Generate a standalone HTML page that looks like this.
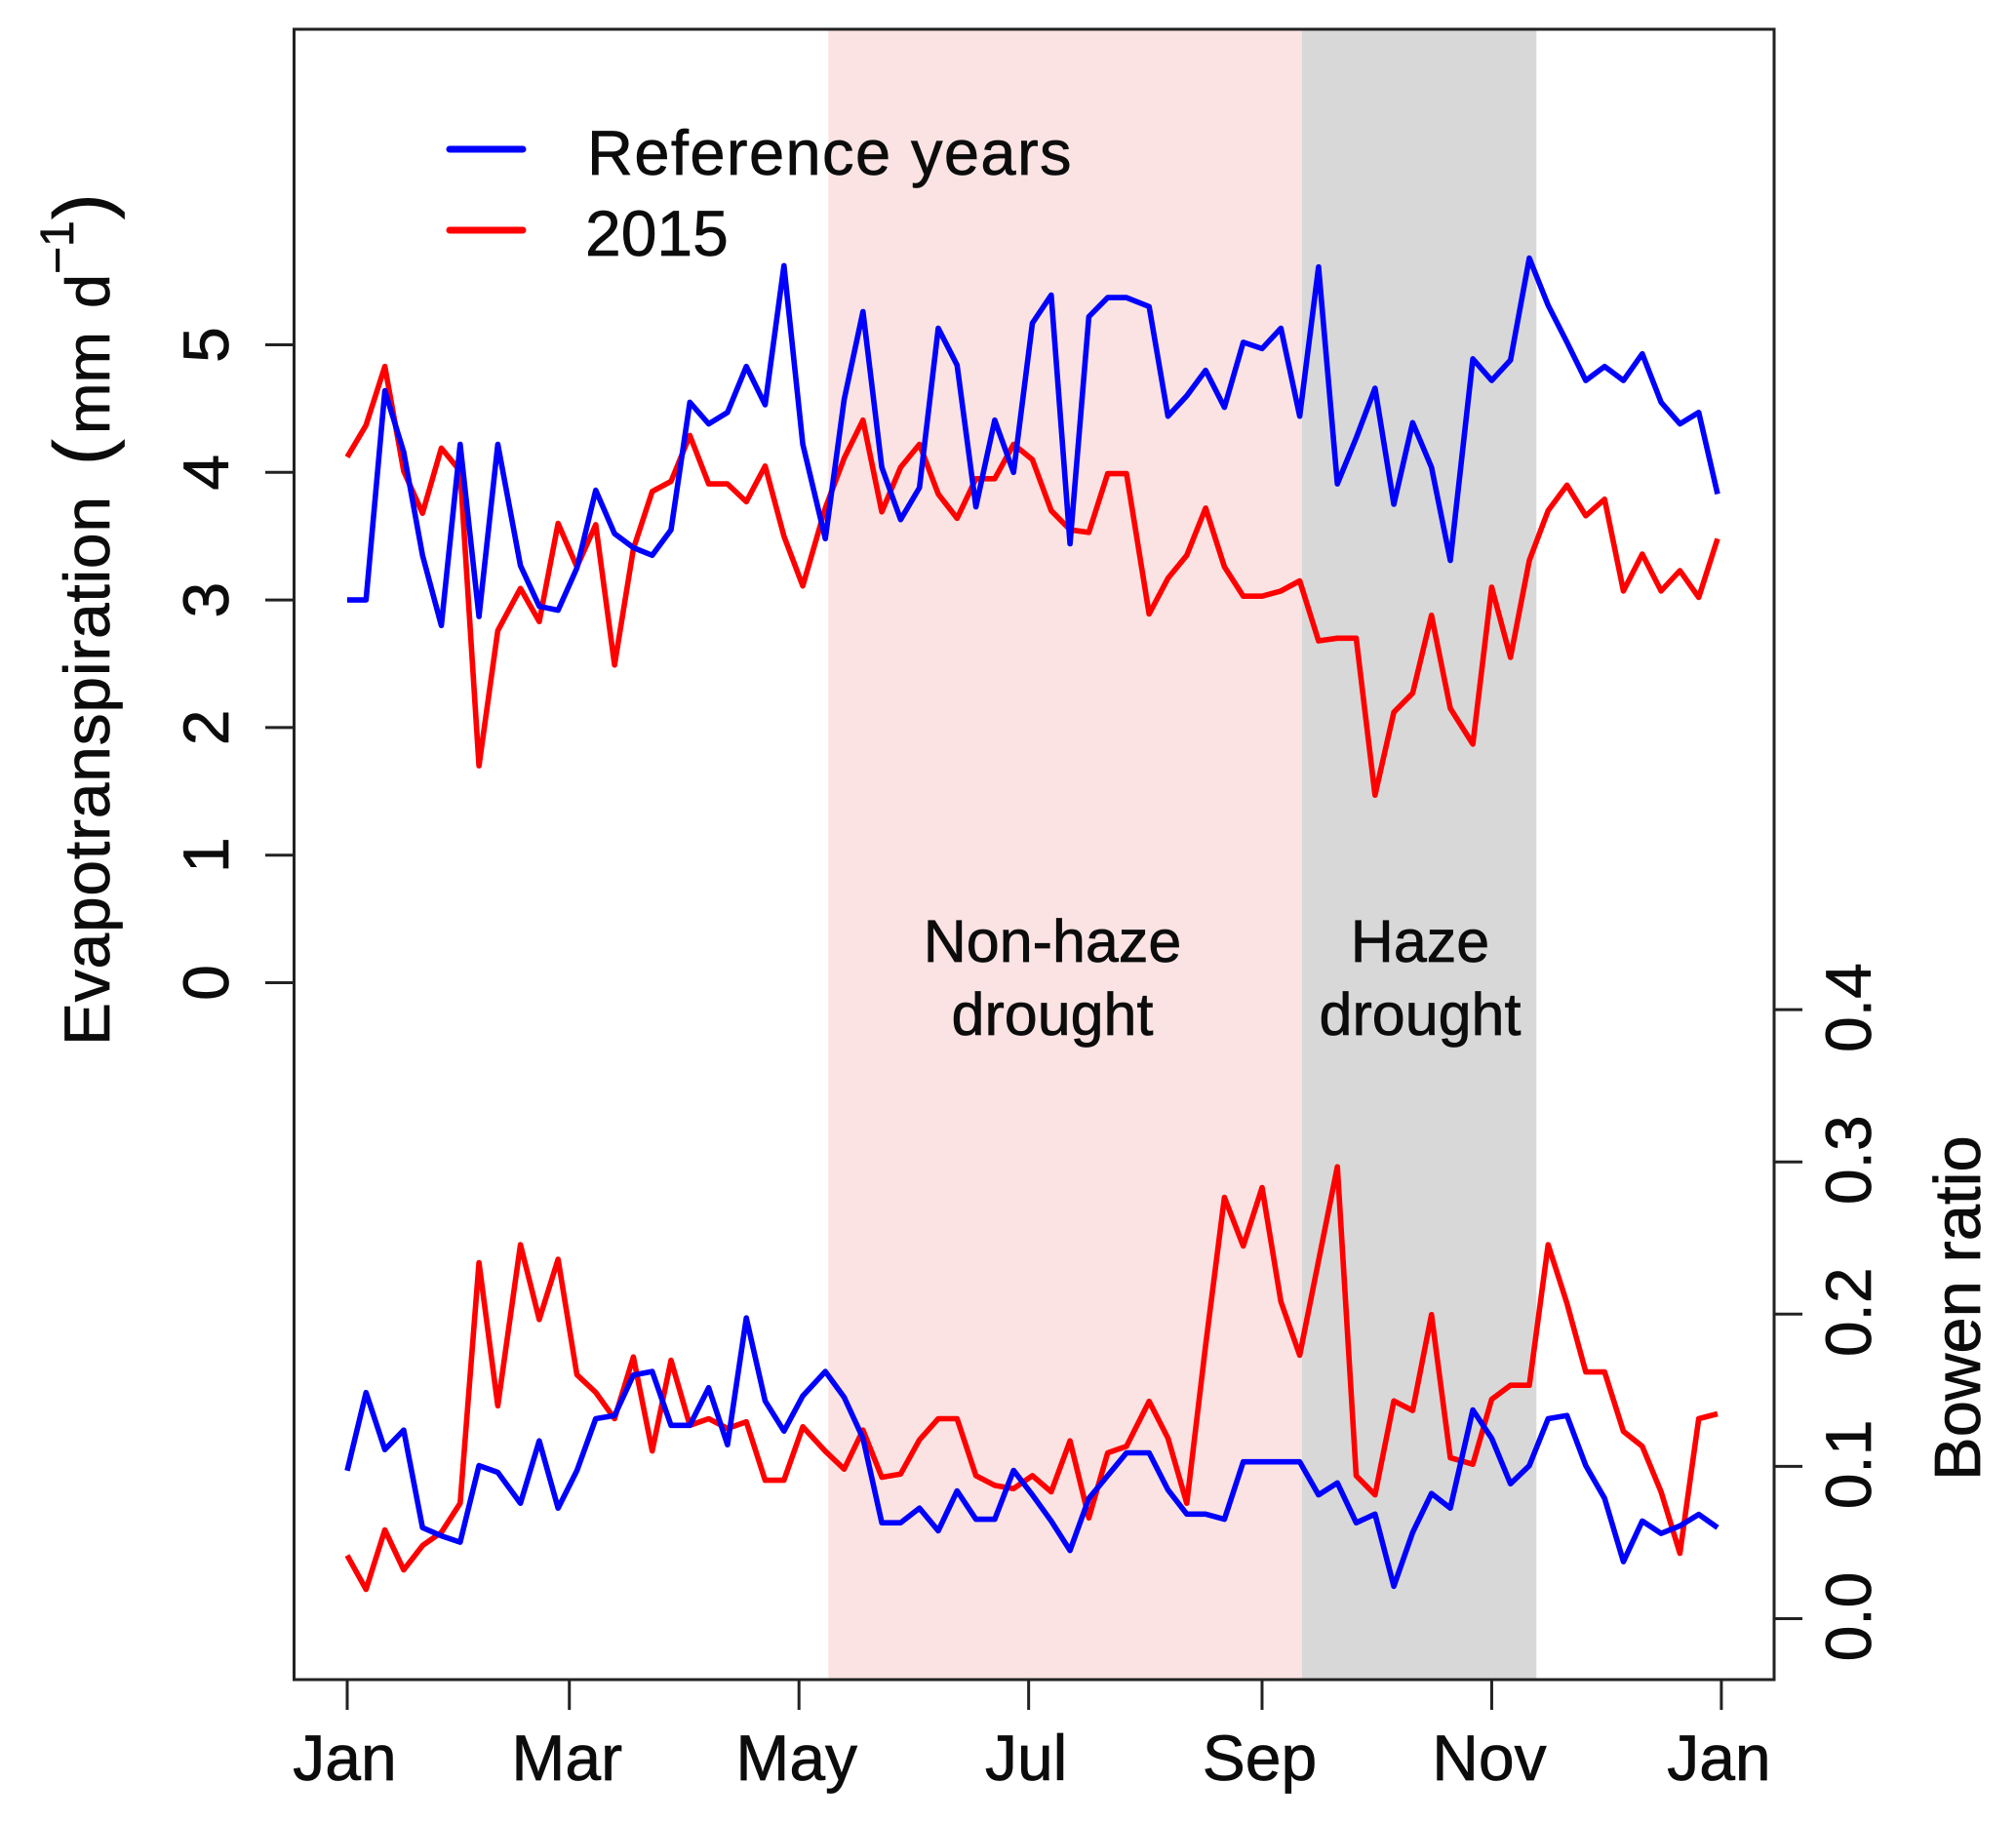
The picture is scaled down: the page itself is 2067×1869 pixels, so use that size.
<!DOCTYPE html>
<html lang="en">
<head>
<meta charset="utf-8">
<title>Evapotranspiration and Bowen ratio</title>
<style>
html,body{margin:0;padding:0;background:#fff;}
svg{display:block;}
text{font-family:"Liberation Sans",Arial,sans-serif;fill:#0c0c0c;stroke:#0c0c0c;stroke-width:0.7px;}
</style>
</head>
<body>
<svg id="chart" xmlns="http://www.w3.org/2000/svg" width="2067" height="1869" viewBox="0 0 2067 1869">
  <rect x="0" y="0" width="2067" height="1869" fill="#fff"/>
  <rect x="849.3" y="30" width="485.7" height="1692" fill="#fae3e2"/>
  <rect x="1335" y="30" width="240.3" height="1692" fill="#d8d8d8"/>
  <g id="series"></g>
  <rect x="301.5" y="30" width="1517.5" height="1692" fill="none" stroke="#222" stroke-width="3"/>
  <g id="axes"></g>

  <g>
    <line x1="461" y1="153" x2="536" y2="153" stroke="#0000ff" stroke-width="7" stroke-linecap="round"/>
    <text x="602" y="179" font-size="65" letter-spacing="1.4">Reference years</text>
    <line x1="461" y1="236" x2="536" y2="236" stroke="#ff0000" stroke-width="7" stroke-linecap="round"/>
    <text x="600" y="262" font-size="66">2015</text>
  </g>

  <text x="1079" y="986" font-size="61" text-anchor="middle">Non-haze</text>
  <text x="1079" y="1061" font-size="61" text-anchor="middle">drought</text>
  <text x="1456" y="986" font-size="61" text-anchor="middle">Haze</text>
  <text x="1456" y="1061" font-size="61" text-anchor="middle">drought</text>

  <g>
    <text transform="translate(112,1072) rotate(-90)" font-size="66" letter-spacing="0.75">Evapotranspiration</text>
    <text transform="translate(111,477) rotate(-90)" font-size="80">(</text>
    <text transform="translate(112,445) rotate(-90)" font-size="63">mm</text>
    <text transform="translate(112,316) rotate(-90)" font-size="63">d</text>
    <text transform="translate(75,281) rotate(-90)" font-size="48">&#8722;1</text>
    <text transform="translate(111,225) rotate(-90)" font-size="80">)</text>
  </g>
  <text transform="translate(2030,1518) rotate(-90)" font-size="67">Bowen ratio</text>
</svg>
<script>
// Day of year for each 5-day period
const days = [0,5,10,15,20,25,30,35,40,46,51,56,61,66,71,76,81,86,91,96,101,106,111,116,121,127,132,137,142,147,152,157,162,167,172,177,182,187,192,197,202,207,213,218,223,228,233,238,243,248,253,258,263,268,273,278,283,288,293,299,304,309,314,319,324,329,334,339,344,349,354,359,364];

// Evapotranspiration (mm/d)
const etReference = [3.00,3.00,4.64,4.16,3.35,2.80,4.22,2.87,4.22,3.27,2.95,2.92,3.25,3.86,3.52,3.41,3.35,3.55,4.55,4.38,4.47,4.83,4.53,5.62,4.22,3.48,4.57,5.26,4.04,3.63,3.88,5.13,4.84,3.73,4.41,4.00,5.17,5.39,3.44,5.22,5.37,5.37,5.30,4.44,4.60,4.80,4.51,5.02,4.97,5.13,4.44,5.61,3.91,4.27,4.66,3.75,4.39,4.04,3.31,4.89,4.72,4.88,5.68,5.31,5.02,4.72,4.83,4.72,4.93,4.55,4.38,4.47,3.83];
const et2015 = [4.12,4.37,4.83,4.01,3.68,4.19,4.01,1.70,2.76,3.09,2.83,3.60,3.26,3.59,2.49,3.40,3.85,3.93,4.29,3.91,3.91,3.77,4.05,3.50,3.11,3.72,4.11,4.41,3.69,4.04,4.22,3.83,3.64,3.95,3.95,4.22,4.10,3.70,3.55,3.53,3.99,3.99,2.89,3.17,3.35,3.72,3.26,3.03,3.03,3.07,3.15,2.68,2.70,2.70,1.47,2.12,2.27,2.88,2.15,1.87,3.10,2.55,3.31,3.70,3.90,3.66,3.79,3.07,3.36,3.07,3.23,3.02,3.48];

// Bowen ratio
const bowenReference = [0.0972,0.1485,0.1110,0.1238,0.0598,0.0544,0.0502,0.1005,0.0961,0.0758,0.1168,0.0726,0.0972,0.1313,0.1334,0.1600,0.1623,0.1270,0.1270,0.1517,0.1142,0.1975,0.1430,0.1232,0.1463,0.1623,0.1454,0.1185,0.0630,0.0630,0.0726,0.0577,0.0839,0.0653,0.0653,0.0974,0.0813,0.0641,0.0448,0.0790,0.0939,0.1089,0.1089,0.0846,0.0687,0.0687,0.0653,0.1030,0.1030,0.1030,0.1030,0.0813,0.0892,0.0630,0.0687,0.0213,0.0566,0.0822,0.0726,0.1371,0.1185,0.0886,0.1005,0.1313,0.1334,0.1005,0.0790,0.0374,0.0641,0.0560,0.0609,0.0685,0.0598];
const bowen2015 = [0.0416,0.0192,0.0583,0.0320,0.0480,0.0566,0.0758,0.2338,0.1398,0.2456,0.1965,0.2360,0.1602,0.1486,0.1313,0.1719,0.1101,0.1697,0.1270,0.1313,0.1249,0.1293,0.0909,0.0909,0.1260,0.1100,0.0982,0.1238,0.0929,0.0950,0.1174,0.1313,0.1313,0.0939,0.0875,0.0854,0.0939,0.0833,0.1168,0.0662,0.1089,0.1132,0.1427,0.1185,0.0758,0.1794,0.2767,0.2447,0.2831,0.2082,0.1730,0.2350,0.2968,0.0939,0.0813,0.1430,0.1367,0.1997,0.1057,0.1014,0.1441,0.1533,0.1533,0.2456,0.2071,0.1620,0.1620,0.1230,0.1132,0.0833,0.0429,0.1313,0.1345];

// Axis labels
const monthTickDays = [0,59,120,181,243,304,365];
const monthTickLabels = ["Jan","Mar","May","Jul","Sep","Nov","Jan"];
const etTickValues = [0,1,2,3,4,5];
const etTickLabels = ["0","1","2","3","4","5"];
const bowenTickValues = [0,0.1,0.2,0.3,0.4];
const bowenTickLabels = ["0.0","0.1","0.2","0.3","0.4"];

function xScale(day){ return 356 + 3.86 * day; }
function etScale(v){ return 1007.5 - 130.8 * v; }
function bowenScale(v){ return 1659.5 - 1561 * v; }

const NS = "http://www.w3.org/2000/svg";
const seriesGroup = document.getElementById("series");
const axesGroup = document.getElementById("axes");

function buildPolyline(values, yFn, color){
  const el = document.createElementNS(NS, "polyline");
  el.setAttribute("points", values.map(function(v, i){
    return xScale(days[i]).toFixed(1) + "," + yFn(v).toFixed(1);
  }).join(" "));
  el.setAttribute("fill", "none");
  el.setAttribute("stroke", color);
  el.setAttribute("stroke-width", "5.6");
  el.setAttribute("stroke-linejoin", "round");
  return el;
}

const lineEt2015 = buildPolyline(et2015, etScale, "#ff0000");


seriesGroup.appendChild(lineEt2015);

const lineEtReference = buildPolyline(etReference, etScale, "#0000ff");


seriesGroup.appendChild(lineEtReference);

const lineBowen2015 = buildPolyline(bowen2015, bowenScale, "#ff0000");


seriesGroup.appendChild(lineBowen2015);

const lineBowenReference = buildPolyline(bowenReference, bowenScale, "#0000ff");


seriesGroup.appendChild(lineBowenReference);

function tickLine(x1, y1, x2, y2){
  const el = document.createElementNS(NS, "line");
  el.setAttribute("x1", x1);
  el.setAttribute("y1", y1);
  el.setAttribute("x2", x2);
  el.setAttribute("y2", y2);
  el.setAttribute("stroke", "#222");
  el.setAttribute("stroke-width", "3");
  return el;
}

function labelText(str, size, anchor, transform){
  const el = document.createElementNS(NS, "text");
  el.textContent = str;
  el.setAttribute("font-size", size);
  el.setAttribute("text-anchor", anchor);
  el.setAttribute("transform", transform);
  return el;
}

monthTickDays.forEach(function(d, i){
  const x = xScale(d);
  const t = tickLine(x, 1722, x, 1753);
  
  
  axesGroup.appendChild(t);
  const l = labelText(monthTickLabels[i], 66, "middle", "translate(" + (x - 2.5) + ",1825)");
  
  
  axesGroup.appendChild(l);
});

etTickValues.forEach(function(v, i){
  const y = etScale(v);
  const t = tickLine(272, y, 301.5, y);
  
  
  axesGroup.appendChild(t);
  const l = labelText(etTickLabels[i], 66, "middle", "translate(234," + y + ") rotate(-90)");
  
  
  axesGroup.appendChild(l);
});

bowenTickValues.forEach(function(v, i){
  const y = bowenScale(v);
  const t = tickLine(1819, y, 1848, y);
  
  
  axesGroup.appendChild(t);
  const l = labelText(bowenTickLabels[i], 66, "middle", "translate(1918," + (y - 2) + ") rotate(-90)");
  
  
  axesGroup.appendChild(l);
});
</script>
</body>
</html>
